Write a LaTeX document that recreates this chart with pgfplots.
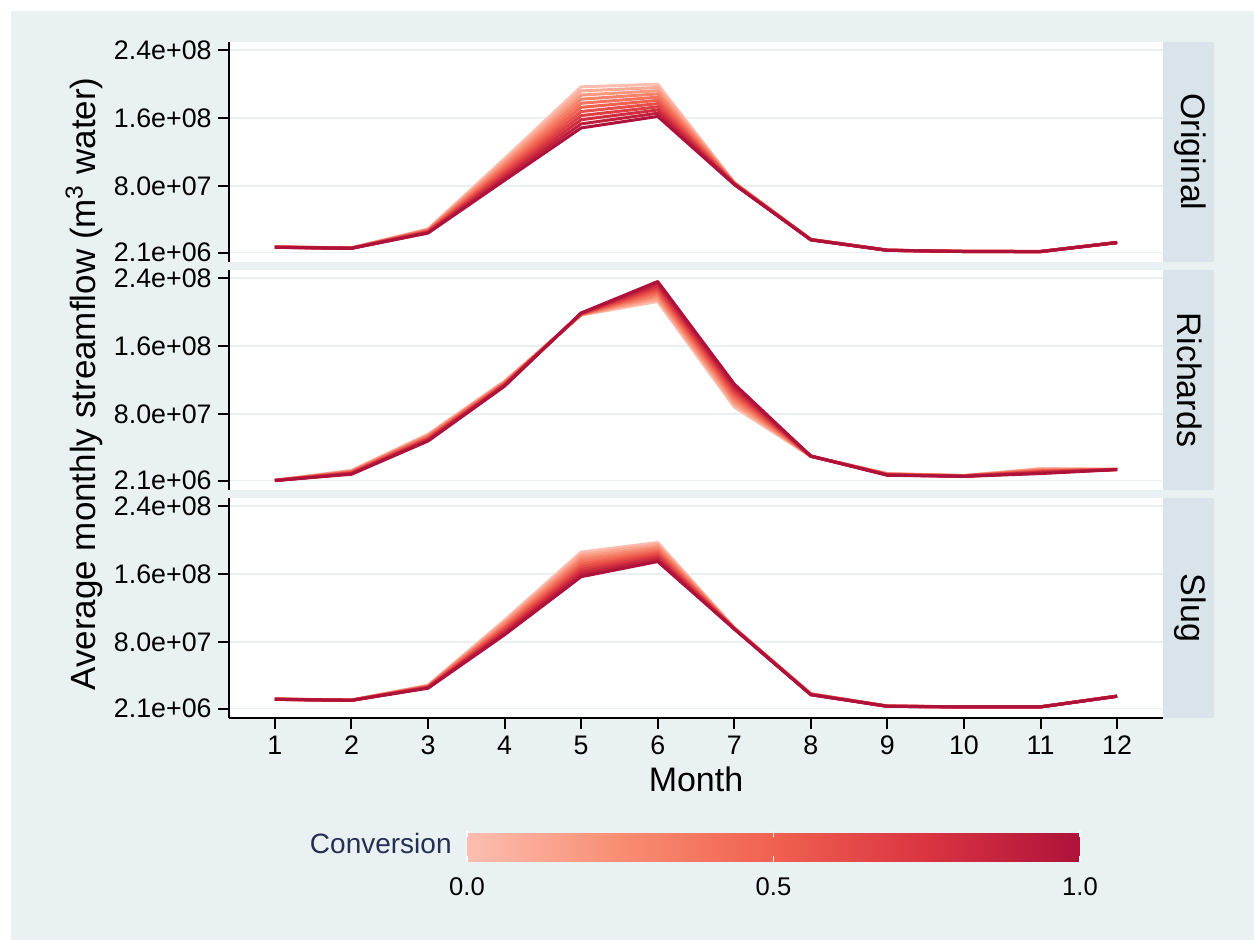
\documentclass[border=0pt]{standalone}
\usepackage{fontspec}
\setmainfont{Liberation Sans}
\usepackage{pgfplots}
\usepackage{pgfplotstable}
\pgfplotsset{compat=1.18}

\definecolor{bgc}{RGB}{234,241,243}
\definecolor{stripc}{RGB}{217,228,234}
\definecolor{gridc}{RGB}{232,239,241}
\definecolor{navy}{RGB}{37,48,82}
\definecolor{s0}{RGB}{253,190,176}
\definecolor{s25}{RGB}{248,141,115}
\definecolor{s50}{RGB}{240,97,80}
\definecolor{s75}{RGB}{218,52,65}
\definecolor{s100}{RGB}{174,18,58}
\colorlet{c0}{s0}
\colorlet{c1}{s25!40!s0}
\colorlet{c2}{s25!80!s0}
\colorlet{c3}{s50!20!s25}
\colorlet{c4}{s50!60!s25}
\colorlet{c5}{s50}
\colorlet{c6}{s75!40!s50}
\colorlet{c7}{s75!80!s50}
\colorlet{c8}{s100!20!s75}
\colorlet{c9}{s100!60!s75}
\colorlet{c10}{s100}

% values in millions of m^3; c0 = conversion 0.0 ... c10 = conversion 1.0
\pgfplotstableread{
m  c0    c1    c2    c3    c4    c5    c6    c7    c8    c9    c10
1  8.8   8.7   8.7   8.6   8.6   8.5   8.4   8.4   8.3   8.3   8.2
2  7.6   7.5   7.5   7.4   7.4   7.3   7.2   7.2   7.1   7.1   7.0
3  29.8  29.3  28.8  28.4  27.9  27.4  26.9  26.4  26.0  25.5  25.0
4  112.5 110.0 107.4 104.9 102.3 99.8  97.2  94.7  92.1  89.6  87.0
5  196.8 192.0 187.1 182.3 177.5 172.7 167.8 163.0 158.2 153.3 148.5
6  199.8 196.0 192.2 188.5 184.7 180.9 177.1 173.3 169.6 165.8 162.0
7  84.5  84.3  84.0  83.8  83.5  83.3  83.0  82.8  82.5  82.3  82.0
8  17.6  17.5  17.5  17.4  17.4  17.3  17.2  17.2  17.1  17.1  17.0
9  4.9   4.9   4.9   4.8   4.8   4.8   4.8   4.8   4.7   4.7   4.7
10 3.5   3.5   3.5   3.4   3.4   3.4   3.4   3.4   3.3   3.3   3.3
11 3.4   3.4   3.4   3.3   3.3   3.3   3.3   3.3   3.2   3.2   3.2
12 14.0  14.0  14.0  13.9  13.9  13.9  13.9  13.9  13.8  13.8  13.8
}\tabO

\pgfplotstableread{
m  c0    c1    c2    c3    c4    c5    c6    c7    c8    c9    c10
1  2.4   2.4   2.3   2.3   2.2   2.2   2.2   2.2   2.1   2.1   2.1
2  14.0  13.6  13.1  12.7  12.2  11.8  11.3  10.9  10.4  10.0  9.5
3  56.5  55.7  54.9  54.1  53.3  52.5  51.7  50.9  50.1  49.3  48.5
4  119.0 118.4 117.8 117.2 116.6 116.0 115.4 114.8 114.2 113.6 113.0
5  196.5 196.8 197.0 197.3 197.5 197.8 198.0 198.3 198.5 198.8 199.0
6  212.5 214.9 217.2 219.6 221.9 224.3 226.6 229.0 231.3 233.7 236.0
7  88.5  91.2  93.9  96.6  99.3  102.0 104.7 107.4 110.1 112.8 115.5
8  30.5  30.5  30.6  30.6  30.7  30.7  30.7  30.8  30.8  30.9  30.9
9  10.3  10.1  9.9   9.7   9.5   9.3   9.1   8.9   8.7   8.5   8.3
10 8.0   7.9   7.8   7.7   7.6   7.5   7.4   7.3   7.2   7.1   7.0
11 16.2  15.6  15.0  14.4  13.8  13.3  12.7  12.1  11.5  10.9  10.3
12 15.3  15.3  15.2  15.2  15.2  15.2  15.1  15.1  15.1  15.0  15.0
}\tabR

\pgfplotstableread{
m  c0    c1    c2    c3    c4    c5    c6    c7    c8    c9    c10
1  13.3  13.3  13.2  13.2  13.1  13.1  13.1  13.0  13.0  12.9  12.9
2  12.1  12.1  12.0  12.0  11.9  11.9  11.9  11.8  11.8  11.7  11.7
3  29.5  29.2  28.8  28.5  28.1  27.8  27.4  27.1  26.7  26.4  26.0
4  106.0 104.3 102.6 100.8 99.1  97.4  95.7  94.0  92.2  90.5  88.8
5  186.0 183.1 180.2 177.3 174.4 171.5 168.6 165.7 162.8 159.9 157.0
6  197.2 195.0 192.7 190.5 188.2 186.0 183.8 181.5 179.3 177.0 174.8
7  97.0  96.9  96.7  96.6  96.4  96.3  96.1  96.0  95.8  95.7  95.5
8  19.5  19.4  19.3  19.1  19.0  18.9  18.8  18.7  18.5  18.4  18.3
9  5.0   5.0   4.9   4.9   4.9   4.9   4.8   4.8   4.8   4.7   4.7
10 4.2   4.2   4.2   4.1   4.1   4.1   4.1   4.1   4.0   4.0   4.0
11 4.2   4.2   4.2   4.1   4.1   4.1   4.1   4.1   4.0   4.0   4.0
12 16.8  16.8  16.7  16.7  16.7  16.7  16.6  16.6  16.6  16.5  16.5
}\tabS

\pgfplotsset{
  panel/.style={
    scale only axis, width=467pt, height=110pt,
    xmin=0.4, xmax=12.6, ymin=-9, ymax=249.5,
    axis background/.style={fill=white},
    axis y line*=left,
    axis line style={-, black, line width=1.1pt},
    ytick={2.1,80,160,240},
    yticklabels={2.1e+06,8.0e+07,1.6e+08,2.4e+08},
    tick align=outside, major tick length=5.5pt,
    tick style={black, line width=1pt},
    ymajorgrids, major grid style={gridc, line width=0.9pt},
    yticklabel style={font=\fontsize{13.4}{15}\selectfont, inner sep=0pt, xshift=-3pt},
    every axis plot/.append style={line width=1.5pt, line join=round},
    /pgf/number format/assume math mode=true,
  }
}

\begin{document}
\begin{tikzpicture}
\fill[white] (0,0) rectangle (627pt,-470pt);
\fill[bgc] (5.5pt,-5.5pt) rectangle (627pt,-470pt);

\begin{axis}[panel, at={(114.5pt,-21pt)}, anchor=north west, axis x line=none]
\pgfplotsinvokeforeach{0,...,10}{\addplot[color=c#1] table[x=m,y=c#1]{\tabO};}
\end{axis}

\begin{axis}[panel, at={(114.5pt,-135pt)}, anchor=north west, axis x line=none]
\pgfplotsinvokeforeach{0,...,10}{\addplot[color=c#1] table[x=m,y=c#1]{\tabR};}
\end{axis}

\begin{axis}[panel, at={(114.5pt,-249pt)}, anchor=north west,
  axis x line*=bottom,
  xtick={1,2,3,4,5,6,7,8,9,10,11,12},
  xticklabels={1,2,3,4,5,6,7,8,9,10,11,12},
  xticklabel style={font=\fontsize{13.4}{15}\selectfont},
  colormap={conv}{rgb255=(253,190,176) rgb255=(248,141,115) rgb255=(240,97,80) rgb255=(218,52,65) rgb255=(174,18,58)},
  point meta min=0, point meta max=1,
  colorbar horizontal,
  colorbar style={
    at={(0.2548,-0.5136)}, anchor=north west,
    scale only axis, width=306.5pt, height=15.5pt,
    xtick={0,0.5,1}, xticklabels={0.0,0.5,1.0},
    xticklabel style={font=\fontsize{12.8}{14}\selectfont, text=black, yshift=-4.5pt},
    major tick length=3pt, tick align=inside,
    xtick pos=both, xticklabel pos=lower,
    tick style={white, line width=0.8pt},
    axis line style={draw=none},
  },
]
\pgfplotsinvokeforeach{0,...,10}{\addplot[color=c#1] table[x=m,y=c#1]{\tabS};}
\end{axis}

% facet strips
\fill[stripc] (581.5pt,-21pt) rectangle (607pt,-131pt);
\fill[stripc] (581.5pt,-135pt) rectangle (607pt,-245pt);
\fill[stripc] (581.5pt,-249pt) rectangle (607pt,-359pt);
\node[rotate=-90, font=\fontsize{17}{20}\selectfont] at (595pt,-76pt) {Original};
\node[rotate=-90, font=\fontsize{17}{20}\selectfont] at (595pt,-190pt) {Richards};
\node[rotate=-90, font=\fontsize{17}{20}\selectfont] at (595pt,-304pt) {Slug};

% axis titles
\node[rotate=90, font=\fontsize{17.5}{20}\selectfont] at (42pt,-192pt) {Average monthly streamflow (m\textsuperscript{3} water)};
\node[font=\fontsize{17}{20}\selectfont] at (348pt,-389.5pt) {Month};
\node[anchor=east, text=navy, font=\fontsize{14}{16}\selectfont, inner sep=0pt] at (226pt,-421.5pt) {Conversion};

\pgfresetboundingbox
\useasboundingbox (0,0) rectangle (627pt,-470pt);
\end{tikzpicture}
\end{document}
